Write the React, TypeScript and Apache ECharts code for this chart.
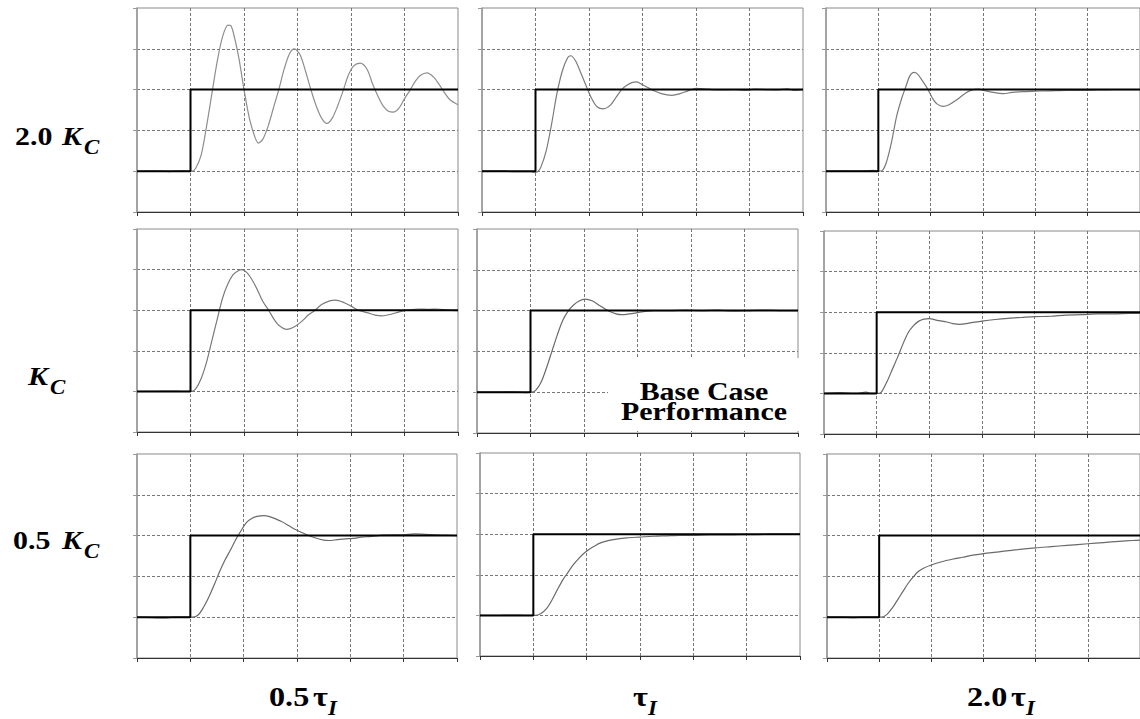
import React, { useEffect, useRef } from "react";
import * as echarts from "echarts";

// ---------- DATA ----------
// Set-point step (same for every panel): x in time divisions, y in grid units
const setpointSteps: number[][] = [[0, 1], [1, 1], [1, 3], [6, 3]];

// Row labels (controller gain) and column labels (integral time)
const rowGainLabels = ["2.0", "", "0.5"];
const colTauLabels = ["0.5", "", "2.0"];

// Measured responses, [time, value]
// Row 1 : 2.0 Kc
const resp2Kc_halfTi: number[][] = [
  [0, 1.0], [0.3, 1.01], [0.6, 0.99], [0.9, 1.01], [1.03, 1.0], [1.1, 1.08], [1.2, 1.4], [1.3, 2.1],
  [1.4, 2.9], [1.5, 3.7], [1.6, 4.3], [1.7, 4.58], [1.75, 4.57], [1.8, 4.4], [1.9, 3.8], [2.0, 3.0],
  [2.1, 2.3], [2.2, 1.85], [2.27, 1.69], [2.35, 1.78], [2.45, 2.1], [2.55, 2.55], [2.65, 3.0],
  [2.75, 3.5], [2.85, 3.88], [2.94, 4.0], [3.05, 3.85], [3.15, 3.45], [3.25, 3.0], [3.35, 2.6],
  [3.45, 2.3], [3.55, 2.17], [3.65, 2.3], [3.75, 2.6], [3.86, 3.0], [3.95, 3.35], [4.05, 3.58],
  [4.17, 3.65], [4.3, 3.5], [4.4, 3.15], [4.5, 2.85], [4.6, 2.6], [4.7, 2.47], [4.8, 2.45],
  [4.9, 2.55], [5.0, 2.78], [5.11, 3.0], [5.2, 3.2], [5.3, 3.35], [5.42, 3.41], [5.55, 3.3],
  [5.65, 3.12], [5.75, 2.92], [5.85, 2.75], [6.0, 2.63],
];
const resp2Kc_Ti: number[][] = [
  [0, 1.0], [0.3, 1.01], [0.6, 0.99], [0.9, 0.99], [0.98, 0.97], [1.05, 1.0], [1.1, 1.1], [1.2, 1.5],
  [1.3, 2.15], [1.4, 2.9], [1.5, 3.45], [1.6, 3.78], [1.66, 3.83], [1.75, 3.7], [1.85, 3.4],
  [1.95, 3.08], [2.05, 2.78], [2.15, 2.58], [2.27, 2.53], [2.4, 2.62], [2.5, 2.8], [2.61, 3.0],
  [2.7, 3.1], [2.8, 3.17], [2.89, 3.19], [3.0, 3.12], [3.1, 3.05], [3.2, 2.98], [3.35, 2.9],
  [3.55, 2.86], [3.7, 2.9], [3.85, 2.97], [4.0, 3.03], [4.15, 3.02], [4.3, 3.0], [4.5, 2.99],
  [4.7, 3.0], [4.9, 2.98], [5.1, 3.01], [5.3, 3.0], [5.5, 2.99], [5.7, 3.02], [5.85, 2.98], [6.0, 3.0],
];
const resp2Kc_2Ti: number[][] = [
  [0, 1.0], [0.3, 1.01], [0.6, 1.0], [0.9, 1.02], [1.0, 1.0], [1.08, 1.02], [1.15, 1.2], [1.25, 1.7],
  [1.35, 2.35], [1.45, 2.8], [1.52, 3.05], [1.6, 3.33], [1.68, 3.42], [1.75, 3.38], [1.85, 3.2],
  [1.95, 3.0], [2.03, 2.8], [2.12, 2.65], [2.24, 2.59], [2.35, 2.63], [2.5, 2.75], [2.65, 2.9],
  [2.77, 2.98], [2.9, 3.01], [3.05, 2.97], [3.2, 2.93], [3.39, 2.9], [3.55, 2.93], [3.75, 2.95],
  [4.0, 2.96], [4.3, 2.97], [4.6, 2.98], [4.9, 2.98], [5.2, 2.99], [5.5, 3.0], [5.8, 3.0], [6.0, 3.0],
];
// Row 2 : Kc
const respKc_halfTi: number[][] = [
  [0, 1.0], [0.3, 1.0], [0.6, 1.01], [0.9, 1.0], [1.02, 1.0], [1.1, 1.07], [1.2, 1.32], [1.3, 1.72],
  [1.4, 2.25], [1.5, 2.78], [1.6, 3.3], [1.7, 3.65], [1.8, 3.88], [1.9, 3.98], [1.96, 4.0],
  [2.05, 3.93], [2.15, 3.75], [2.25, 3.5], [2.35, 3.22], [2.46, 3.0], [2.55, 2.8], [2.65, 2.63],
  [2.8, 2.53], [2.95, 2.6], [3.1, 2.75], [3.2, 2.88], [3.33, 3.0], [3.45, 3.14], [3.6, 3.23],
  [3.71, 3.25], [3.85, 3.2], [4.0, 3.1], [4.14, 3.0], [4.3, 2.94], [4.45, 2.88], [4.58, 2.86],
  [4.75, 2.9], [4.9, 2.96], [5.05, 3.0], [5.27, 3.03], [5.45, 3.02], [5.6, 3.03], [5.8, 3.0], [6.0, 2.99],
];
const respKc_Ti: number[][] = [
  [0, 1.0], [0.3, 1.0], [0.6, 1.01], [0.9, 0.99], [1.03, 1.0], [1.1, 1.05], [1.2, 1.25], [1.3, 1.6],
  [1.4, 2.0], [1.5, 2.4], [1.6, 2.75], [1.7, 2.98], [1.8, 3.13], [1.9, 3.23], [2.02, 3.28],
  [2.15, 3.24], [2.3, 3.12], [2.46, 2.99], [2.6, 2.92], [2.71, 2.9], [2.85, 2.92], [3.0, 2.95],
  [3.15, 2.98], [3.3, 3.0], [3.6, 3.0], [3.9, 3.01], [4.2, 3.0], [4.5, 3.01], [4.8, 2.99],
  [5.1, 3.0], [5.4, 3.01], [5.7, 3.0], [6.0, 3.0],
];
const respKc_2Ti: number[][] = [
  [0, 1.0], [0.3, 1.02], [0.6, 1.0], [0.8, 1.03], [0.9, 1.0], [1.05, 1.0], [1.1, 1.05], [1.2, 1.3],
  [1.3, 1.6], [1.4, 1.9], [1.5, 2.22], [1.6, 2.5], [1.7, 2.67], [1.8, 2.78], [1.9, 2.83],
  [2.0, 2.84], [2.15, 2.8], [2.3, 2.77], [2.45, 2.72], [2.57, 2.7], [2.75, 2.73], [3.0, 2.78],
  [3.25, 2.82], [3.5, 2.85], [3.75, 2.87], [4.0, 2.89], [4.3, 2.9], [4.6, 2.93], [4.9, 2.94],
  [5.2, 2.96], [5.5, 2.96], [5.8, 2.97], [6.0, 2.97],
];
// Row 3 : 0.5 Kc
const respHalfKc_halfTi: number[][] = [
  [0, 1.0], [0.3, 0.99], [0.5, 0.98], [0.7, 1.0], [1.0, 1.0], [1.05, 1.0], [1.15, 1.06], [1.25, 1.25],
  [1.35, 1.5], [1.45, 1.8], [1.55, 2.12], [1.65, 2.4], [1.75, 2.64], [1.85, 2.9], [1.95, 3.12],
  [2.05, 3.32], [2.15, 3.42], [2.25, 3.47], [2.38, 3.49], [2.5, 3.46], [2.6, 3.41], [2.7, 3.35],
  [2.8, 3.28], [2.9, 3.2], [3.0, 3.13], [3.1, 3.07], [3.2, 3.01], [3.35, 2.94], [3.5, 2.89],
  [3.6, 2.88], [3.75, 2.9], [3.9, 2.92], [4.05, 2.93], [4.2, 2.96], [4.4, 2.98], [4.6, 3.01],
  [4.8, 3.02], [5.0, 3.02], [5.2, 3.04], [5.4, 3.03], [5.6, 3.02], [5.8, 3.01], [6.0, 3.0],
];
const respHalfKc_Ti: number[][] = [
  [0, 1.0], [0.3, 1.0], [0.6, 1.01], [0.9, 1.0], [1.05, 1.0], [1.15, 1.05], [1.25, 1.17], [1.35, 1.38],
  [1.45, 1.63], [1.55, 1.87], [1.65, 2.06], [1.75, 2.25], [1.85, 2.4], [1.95, 2.53], [2.05, 2.63],
  [2.15, 2.71], [2.25, 2.78], [2.4, 2.84], [2.56, 2.88], [2.75, 2.91], [3.0, 2.93], [3.25, 2.95],
  [3.5, 2.96], [3.75, 2.97], [4.0, 2.97], [4.3, 2.98], [4.6, 2.98], [4.9, 2.99], [5.2, 2.99],
  [5.5, 3.0], [5.8, 3.0], [6.0, 3.0],
];
const respHalfKc_2Ti: number[][] = [
  [0, 1.0], [0.3, 1.0], [0.5, 0.99], [0.7, 1.0], [1.0, 1.0], [1.05, 1.0], [1.15, 1.07], [1.25, 1.22],
  [1.35, 1.42], [1.45, 1.62], [1.55, 1.82], [1.65, 1.98], [1.75, 2.12], [1.85, 2.2], [2.0, 2.28],
  [2.2, 2.36], [2.4, 2.42], [2.6, 2.47], [2.8, 2.52], [3.0, 2.56], [3.3, 2.6], [3.6, 2.65],
  [4.0, 2.7], [4.3, 2.73], [4.6, 2.76], [5.0, 2.8], [5.3, 2.83], [5.6, 2.86], [5.86, 2.88], [6.0, 2.89],
];

const responses = [
  resp2Kc_halfTi, resp2Kc_Ti, resp2Kc_2Ti,
  respKc_halfTi, respKc_Ti, respKc_2Ti,
  respHalfKc_halfTi, respHalfKc_Ti, respHalfKc_2Ti,
];

// ---------- LAYOUT ----------
const panelBoxes = [
  { left: 137, top: 8, width: 321, height: 204 },
  { left: 482, top: 8, width: 321, height: 204 },
  { left: 826, top: 8, width: 321, height: 204 },
  { left: 137, top: 229, width: 321, height: 203 },
  { left: 477, top: 229, width: 321, height: 204 },
  { left: 824, top: 231, width: 321, height: 203 },
  { left: 137, top: 454, width: 320, height: 204 },
  { left: 480, top: 453, width: 320, height: 203 },
  { left: 827, top: 454, width: 321, height: 204 },
];
const responseColors = ["#8e8e8e", "#7a7a7a", "#7a7a7a", "#7a7a7a", "#6a6a6a", "#6a6a6a", "#6a6a6a", "#6a6a6a", "#6a6a6a"];

const SX = 1.15;
const SERIF = "'Times New Roman', 'Liberation Serif', Tinos, Times, serif";

function txt(text: string, x: number, y: number, size: number, italic: boolean, align = "left") {
  return {
    type: "text",
    x,
    y,
    scaleX: SX,
    z: 20,
    style: {
      text,
      fill: "#000",
      fontFamily: SERIF,
      fontWeight: "bold",
      fontStyle: italic ? "italic" : "normal",
      fontSize: size,
      align,
      verticalAlign: "middle",
    },
  };
}

export default function App() {
  const ref = useRef<HTMLDivElement>(null);
  useEffect(() => {
    if (!ref.current) return;
    const chart = echarts.init(ref.current, undefined, { renderer: "svg" });

    const grid = panelBoxes.map((b) => ({
      ...b,
      show: true,
      borderColor: "#8a8a8a",
      borderWidth: 1,
      backgroundColor: "transparent",
    }));
    const xAxis = panelBoxes.map((_, i) => ({
      type: "value",
      gridIndex: i,
      min: 0,
      max: 6,
      interval: 1,
      axisLabel: { show: false },
      axisLine: { show: true, onZero: false, lineStyle: { color: "#333", width: 1 } },
      axisTick: { show: true, length: 4, lineStyle: { color: "#333" } },
      splitLine: { show: true, showMinLine: false, showMaxLine: false, lineStyle: { color: "#777", type: [3, 2], width: 1 } },
    }));
    const yAxis = panelBoxes.map((_, i) => ({
      type: "value",
      gridIndex: i,
      min: 0,
      max: 5,
      interval: 1,
      axisLabel: { show: false },
      axisLine: { show: true, onZero: false, lineStyle: { color: "#999", width: 1.5 } },
      axisTick: { show: true, length: 4, lineStyle: { color: "#999" } },
      splitLine: { show: true, showMinLine: false, showMaxLine: false, lineStyle: { color: "#777", type: [3, 2], width: 1 } },
    }));
    const series: any[] = [];
    responses.forEach((d, i) => {
      series.push({
        type: "line",
        xAxisIndex: i,
        yAxisIndex: i,
        data: d,
        showSymbol: false,
        smooth: 0.3,
        lineStyle: { color: responseColors[i], width: 1.2 },
        z: 2,
      });
      series.push({
        type: "line",
        xAxisIndex: i,
        yAxisIndex: i,
        data: setpointSteps,
        showSymbol: false,
        lineStyle: { color: "#000", width: 2 },
        z: 3,
      });
    });

    const graphic: any[] = [
      // white label box in base-case panel
      { type: "rect", z: 15, shape: { x: 608, y: 358, width: 200, height: 73 }, style: { fill: "#fff" } },
      txt("Base Case", 704, 391, 26, false, "center"),
      txt("Performance", 704, 411, 26, false, "center"),
      // row labels
      txt(rowGainLabels[0], 15, 136, 26, false),
      txt("K", 62, 136, 26, true),
      txt("C", 84, 148, 20, true),
      txt("K", 28, 376, 26, true),
      txt("C", 50, 388, 20, true),
      txt(rowGainLabels[2], 13, 540, 26, false),
      txt("K", 62, 540, 26, true),
      txt("C", 84, 552, 20, true),
      // column labels
      txt(colTauLabels[0], 269, 697, 28, false),
      txt("τ", 313, 697, 28, false),
      txt("I", 328, 709, 20, true),
      txt("τ", 633, 697, 28, false),
      txt("I", 648, 709, 20, true),
      txt(colTauLabels[2], 967, 697, 28, false),
      txt("τ", 1011, 697, 28, false),
      txt("I", 1026, 709, 20, true),
    ];

    chart.setOption({ animation: false, grid, xAxis, yAxis, series, graphic });
    return () => chart.dispose();
  }, []);
  return (
    <div
      ref={ref}
      style={{ position: "absolute", left: 0, top: 0, width: 1140, height: 719, background: "#fff" }}
    />
  );
}
